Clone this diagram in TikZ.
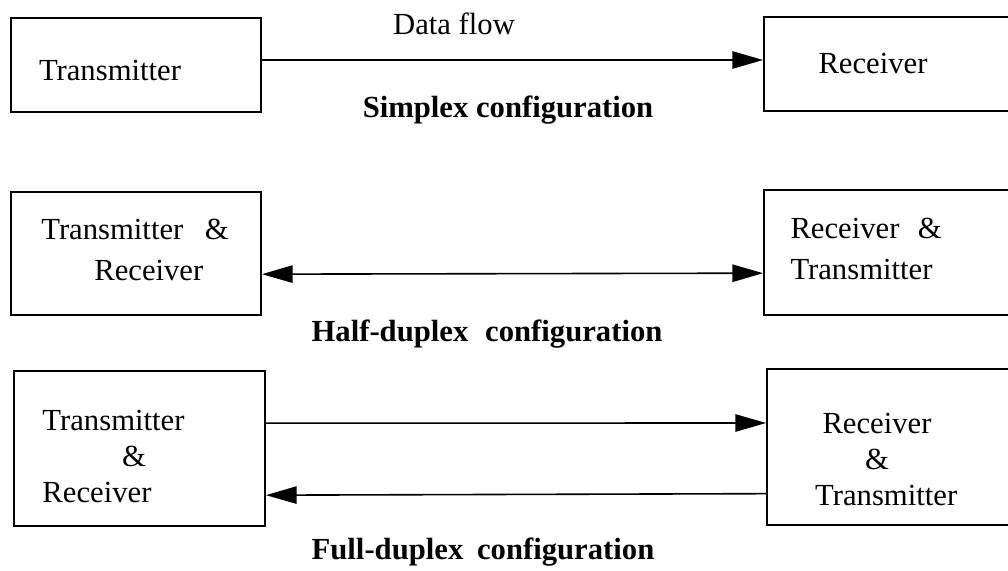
\documentclass[tikz,border=0pt]{standalone}
\usepackage{fontspec}
\setmainfont{Liberation Serif}
\usetikzlibrary{arrows.meta}

\tikzset{every picture/.style={line width=0.75pt}}
\tikzset{
  unitbox/.style={draw, line width=1.4pt, inner sep=0pt},
  flowline/.style={line width=1.2pt, -{Triangle[length=23pt,width=13pt]}},
  boxtext/.style={inner sep=0.75pt, font=\fontsize{23}{31}\selectfont},
  captext/.style={inner sep=0.75pt, font=\fontsize{23}{28}\selectfont\bfseries}
}

\begin{document}
\begin{tikzpicture}[x=0.75pt,y=0.75pt,yscale=-1,xscale=1]
\clip (0,0) rectangle (1008,571);
\fill[white] (0,0) rectangle (1008,571);

% Simplex
\node [unitbox, minimum width=187.5pt, minimum height=70.5pt] (tx1) at (136,65) {};
\node [unitbox, minimum width=186pt, minimum height=70.5pt] (rx1) at (888,64) {};
\draw [flowline] ([yshift=-3.75pt]tx1.east) -- ([yshift=-3pt]rx1.west);
\node [boxtext] (tx1t) at (110,70) {Transmitter};
\node [boxtext] (rx1t) at (873,63) {Receiver};
\node [boxtext] (flowt) at (454,24) {Data flow};
\node [captext] (cap1) at (508,110) {Simplex configuration};

% Half-duplex
\node [unitbox, minimum width=187.5pt, minimum height=92.25pt] (tx2) at (136,253.5) {};
\node [unitbox, minimum width=186pt, minimum height=93.75pt] (rx2) at (888,252.5) {};
\draw [flowline, {Triangle[length=23pt,width=13pt]}-{Triangle[length=23pt,width=13pt]}] ([yshift=15.5pt]tx2.east) -- ([yshift=15.5pt]rx2.west);
\node [boxtext, align=center] (tx2t) at (135,250) {Transmitter\hspace{0.7em}\&\\\hspace{0.9em}Receiver};
\node [boxtext, align=left, anchor=west] (rx2t) at (789,249) {Receiver\hspace{0.6em}\&\\Transmitter};
\node [captext] (cap2) at (487,334) {Half-duplex\hspace{0.3em} configuration};

% Full-duplex
\node [unitbox, minimum width=188.25pt, minimum height=116.25pt] (tx3) at (139.5,448.5) {};
\node [unitbox, minimum width=183.75pt, minimum height=117pt] (rx3) at (889.5,447) {};
\draw [flowline] ([yshift=-19pt]tx3.east) -- ([yshift=-18pt]rx3.west);
\draw [flowline] ([yshift=35pt]rx3.west) -- ([yshift=35pt]tx3.east);
\node [boxtext, align=left, anchor=west, font=\fontsize{23}{27}\selectfont] (tx3t) at (41,456) {Transmitter\\\hspace{2.6em}\&\\Receiver};
\node [boxtext, align=center, font=\fontsize{23}{27}\selectfont] (rx3t) at (877,459) {Receiver\\\&\\\hspace{0.6em}Transmitter};
\node [captext] (cap3) at (483,552) {Full-duplex\hspace{0.2em} configuration};

\end{tikzpicture}
\end{document}
